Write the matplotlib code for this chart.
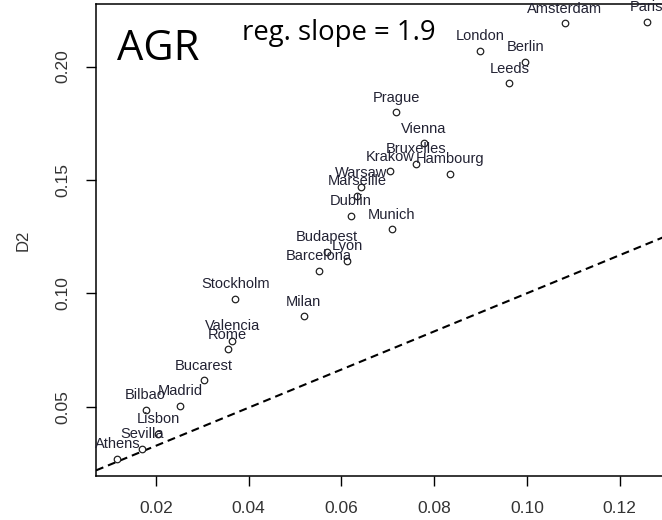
import numpy as np
import matplotlib.pyplot as plt

# villes et valeurs (abscisse, D2)
villes = ['Athens', 'Sevilla', 'Lisbon', 'Bilbao', 'Madrid', 'Bucarest',
          'Stockholm', 'Milan', 'Valencia', 'Rome', 'Barcelona', 'Budapest',
          'Lyon', 'Munich', 'Dublin', 'Marseille', 'Warsaw', 'Krakow',
          'Bruxelles', 'Hambourg', 'Vienna', 'Prague', 'Leeds', 'Berlin',
          'London', 'Amsterdam', 'Paris']
x = [0.0117, 0.0171, 0.0205, 0.0178, 0.0252, 0.0304,
     0.0371, 0.0519, 0.0365, 0.0355, 0.0552, 0.0568,
     0.0613, 0.0709, 0.0620, 0.0634, 0.0642, 0.0705,
     0.0761, 0.0835, 0.0778, 0.0718, 0.0962, 0.0996,
     0.0899, 0.1081, 0.1258]
d2 = [0.0271, 0.0315, 0.0380, 0.0485, 0.0504, 0.0616,
      0.0976, 0.0899, 0.0791, 0.0753, 0.1100, 0.1184,
      0.1144, 0.1283, 0.1341, 0.1429, 0.1468, 0.1538,
      0.1571, 0.1526, 0.1661, 0.1799, 0.1927, 0.2021,
      0.2070, 0.2191, 0.2198]

# droite de référence en pointillés
ref_intercept = 0.0159
ref_pente = 0.841

W, H = 662, 520
fig = plt.figure(figsize=(W / 100, H / 100), dpi=100)
ax = fig.add_axes([96 / W, 44 / H, 604 / W, 472 / H])

ax.scatter(x, d2, s=22, facecolors='white', edgecolors='#222222',
           linewidths=0.9, zorder=3)
for nom, xi, yi in zip(villes, x, d2):
    ax.annotate(nom, (xi, yi), xytext=(0, 10.5), textcoords='offset points',
                ha='center', va='center', fontsize=10.5,
                family='Liberation Sans', color='#222233')

ax.axline((0, ref_intercept), slope=ref_pente, color='black', lw=1.5,
          dashes=(3.8, 2.4))

ax.set_xlim(0.0071, 0.1373)
ax.set_ylim(0.0194, 0.2276)
ax.set_xticks([0.02, 0.04, 0.06, 0.08, 0.10, 0.12])
ax.set_xticklabels(['0.02', '0.04', '0.06', '0.08', '0.10', '0.12'])
ax.set_yticks([0.05, 0.10, 0.15, 0.20])
ax.set_yticklabels(['0.05', '0.10', '0.15', '0.20'], rotation=90, va='center')
ax.tick_params(length=7.2, width=1, direction='out', pad=11,
               labelsize=12.5, colors='#333333')
ax.tick_params(color='black')
for lab in ax.get_xticklabels() + ax.get_yticklabels():
    lab.set_family('Liberation Sans')
for s in ax.spines.values():
    s.set_linewidth(1.1)

ax.set_ylabel('D2', fontsize=12, family='Liberation Sans', labelpad=18,
              color='#333333')

fig.text(117 / W, 1 - 60 / H, 'AGR', fontsize=30, family='Open Sans',
         va='baseline', ha='left')
fig.text(241.7 / W, 1 - 40 / H, 'reg. slope = 1.9', fontsize=19.8,
         family='Open Sans', va='baseline', ha='left')

fig.savefig('out.png', dpi=100)
